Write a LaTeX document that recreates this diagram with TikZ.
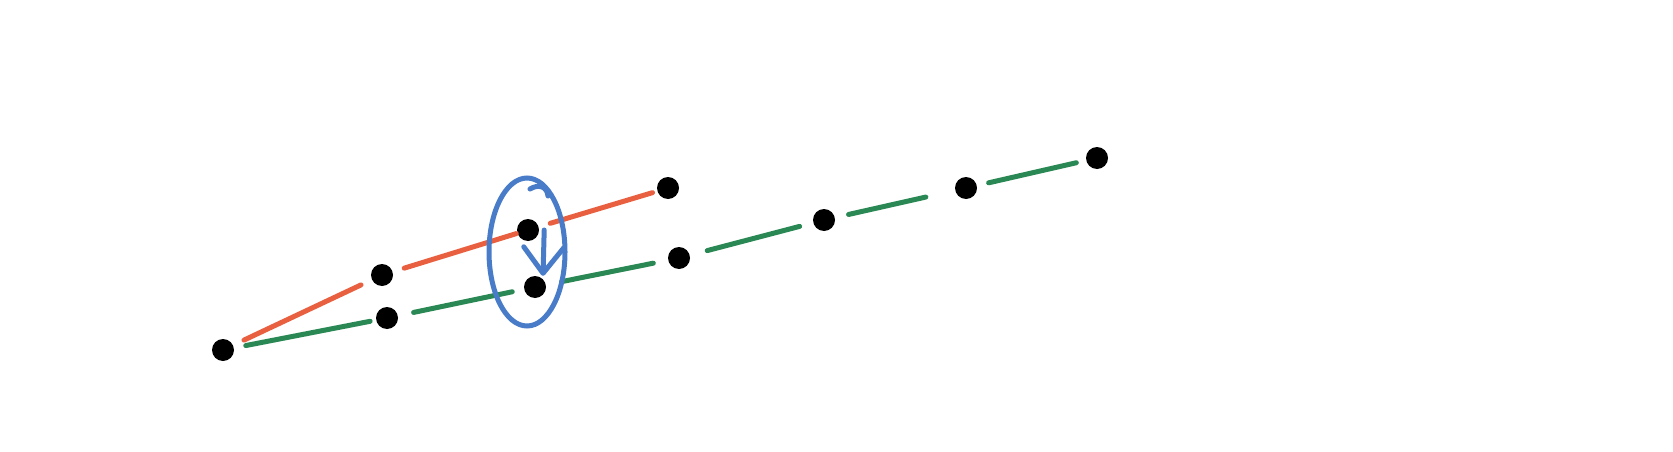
\documentclass[tikz,border=0pt]{standalone}
\usetikzlibrary{arrows.meta,shapes.geometric}

\definecolor{penred}{RGB}{232,96,64}
\definecolor{pengreen}{RGB}{42,136,84}
\definecolor{penblue}{RGB}{72,124,200}

\begin{document}
\begin{tikzpicture}[x=1pt,y=-1pt,
        blob/.style={circle,fill=black,inner sep=0pt,minimum size=22pt},
        stroke/.style={line width=5pt,line cap=round,shorten <=12pt,shorten >=12pt},
        redstroke/.style={stroke,draw=penred},
        greenstroke/.style={stroke,draw=pengreen},
        bluestroke/.style={line width=5pt,line cap=round,draw=penblue}]
        \fill[white] (0,0) rectangle (1673,452);
        \useasboundingbox (0,0) rectangle (1673,452);

        % points
        \node[blob] (a) at (223,350) {};
        \node[blob] (b) at (382,275) {};
        \node[blob] (c) at (387,318) {};
        \node[blob] (d) at (528,230) {};
        \node[blob] (e) at (535,287) {};
        \node[blob] (f) at (668,188) {};
        \node[blob] (g) at (679,258) {};
        \node[blob] (h) at (824,220) {};
        \node[blob] (i) at (966,188) {};
        \node[blob] (j) at (1097,158) {};

        % red path
        \draw[redstroke] (a) -- (b);
        \draw[redstroke,shorten >=1pt] (b) -- (d);
        \draw[redstroke,shorten >=5pt] (d) -- (f);

        % green path
        \draw[greenstroke,shorten >=6pt] (a) -- (c);
        \draw[greenstroke,shorten <=16pt] (c) -- (e);
        \draw[greenstroke,shorten <=16pt,shorten >=15pt] (e) -- (g);
        \draw[greenstroke,shorten <=18pt,shorten >=14pt] (g) -- (h);
        \draw[greenstroke,shorten <=14pt,shorten >=30pt] (h) -- (i);
        \draw[greenstroke,shorten <=12pt,shorten >=10pt] (i) -- (j);

        % loop round the two middle points
        \node[bluestroke,ellipse,minimum width=76pt,minimum height=148pt] (loop) at (527,252) {};
        \draw[bluestroke] (530,189) .. controls (538,184) and (547,186) .. (548,196);
        \draw[bluestroke,-{Straight Barb[length=26pt,width=40pt,round]}]
            ([xshift=5pt]d.east) -- ([xshift=8pt]e.north);

    \end{tikzpicture}
\end{document}
